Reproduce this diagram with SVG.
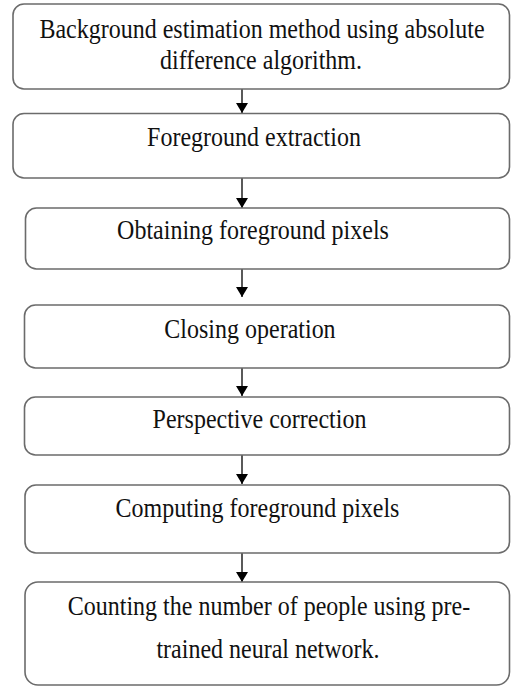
<svg xmlns="http://www.w3.org/2000/svg" width="511" height="686" viewBox="0 0 511 686">
<defs>
<style>
.box{fill:#fff;stroke:#6b6b6b;stroke-width:1.6}
.lbl{font-family:"Liberation Serif","Times New Roman",serif;font-size:24px;fill:#111;text-anchor:middle}
.conn{stroke:#000;stroke-width:1.3;fill:none;marker-end:url(#ah)}
</style>
<marker id="ah" viewBox="0 0 10 12" refX="10" refY="6" markerWidth="10" markerHeight="12" markerUnits="userSpaceOnUse" orient="auto">
<path d="M0,0 L10,6 L0,12 z" fill="#000"/>
</marker>
</defs>
<rect width="511" height="686" fill="#fff"/>
<g id="connectors">
<line class="conn" x1="242" y1="89" x2="242" y2="113"/>
<line class="conn" x1="242" y1="178" x2="242" y2="208"/>
<line class="conn" x1="242" y1="269" x2="242" y2="297"/>
<line class="conn" x1="242" y1="368" x2="242" y2="396"/>
<line class="conn" x1="242" y1="455" x2="242" y2="484"/>
<line class="conn" x1="242" y1="553" x2="242" y2="582"/>
</g>
<g id="n1">
<rect class="box" x="13" y="4" width="496.5" height="85" rx="11"/>
<text class="lbl" transform="translate(262,38) scale(1,1.1)">Background estimation method using absolute</text>
<text class="lbl" transform="translate(261,69) scale(1,1.1)">difference algorithm.</text>
</g>
<g id="n2">
<rect class="box" x="13" y="113.5" width="496.5" height="64.5" rx="11"/>
<text class="lbl" transform="translate(254,146) scale(1,1.1)">Foreground extraction</text>
</g>
<g id="n3">
<rect class="box" x="25.5" y="208" width="484" height="61" rx="11"/>
<text class="lbl" transform="translate(253,239) scale(1,1.1)">Obtaining foreground pixels</text>
</g>
<g id="n4">
<rect class="box" x="24.5" y="305" width="485" height="63" rx="11"/>
<text class="lbl" transform="translate(250,338) scale(1,1.1)">Closing operation</text>
</g>
<g id="n5">
<rect class="box" x="24.5" y="397" width="485" height="58" rx="11"/>
<text class="lbl" transform="translate(259.5,428) scale(1,1.1)">Perspective correction</text>
</g>
<g id="n6">
<rect class="box" x="25" y="485" width="484.5" height="68" rx="11"/>
<text class="lbl" transform="translate(257.5,517) scale(1,1.1)">Computing foreground pixels</text>
</g>
<g id="n7">
<rect class="box" x="25" y="582" width="484.5" height="103" rx="13"/>
<text class="lbl" transform="translate(269,615) scale(1,1.1)">Counting the number of people using pre-</text>
<text class="lbl" transform="translate(268,658) scale(1,1.1)">trained neural network.</text>
</g>
</svg>
